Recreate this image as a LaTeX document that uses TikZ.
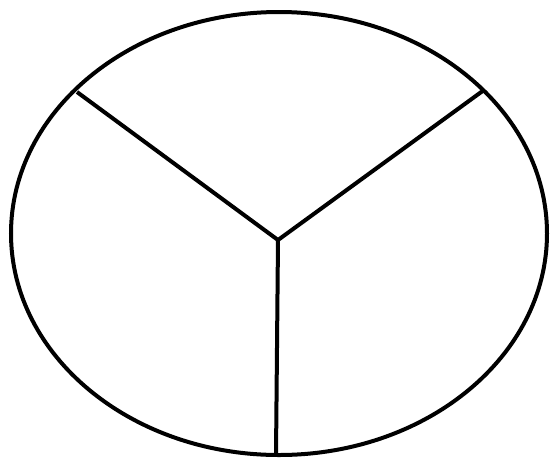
\documentclass[tikz,border=0pt]{standalone}
\begin{document}
\begin{tikzpicture}[x=1pt,y=-1pt,line width=4pt,
  outline/.style={draw=black},
  divider/.style={draw=black}]
\useasboundingbox (0,0) rectangle (552,459);
\coordinate (c) at (278,240);
\coordinate (l) at (77,92);
\coordinate (r) at (484,90);
\coordinate (b) at (276,455);
\draw[outline] (279,233.5) ellipse [x radius=268, y radius=221.5];
\draw[divider] (l) -- (c) -- (r);
\draw[divider] (c) -- (b);
\end{tikzpicture}
\end{document}
